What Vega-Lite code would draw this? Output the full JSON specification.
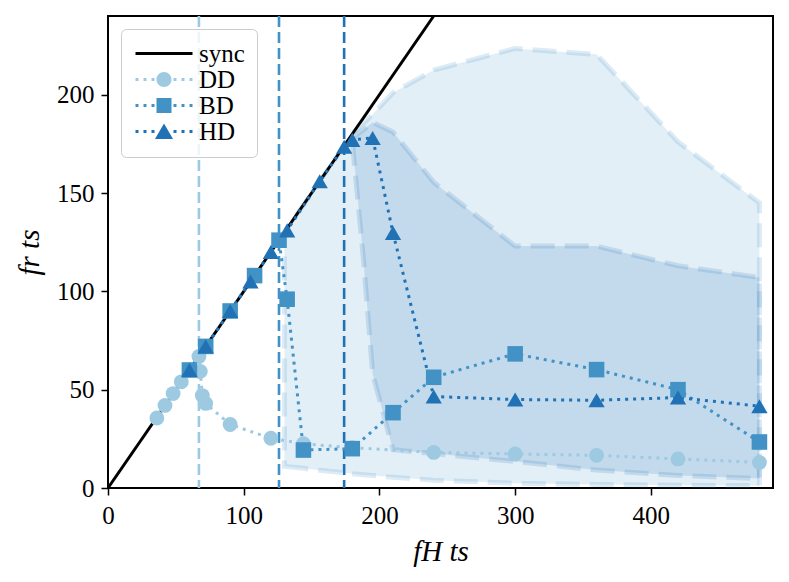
{
  "$schema": "https://vega.github.io/schema/vega-lite/v6.json",
  "width": 665,
  "height": 472,
  "autosize": {"type": "none"},
  "padding": {"left": 108, "top": 16, "right": 16, "bottom": 94},
  "background": "white",
  "config": {
    "font": "Liberation Serif",
    "view": {"stroke": "black", "strokeWidth": 2},
    "axis": {
      "domain": false, "grid": false, "ticks": true, "tickColor": "black", "tickWidth": 1.5, "tickSize": 7,
      "labelFont": "Liberation Serif", "labelFontSize": 25, "labelColor": "black", "labelFlush": false,
      "titleFont": "Liberation Serif", "titleFontSize": 29, "titleFontStyle": "italic", "titleFontWeight": "normal", "titleColor": "black"
    }
  },
  "datasets": {
    "regionA": [
      {"x": 130, "lo": 11, "hi": 130}, {"x": 144, "lo": 10, "hi": 144}, {"x": 156, "lo": 9, "hi": 156},
      {"x": 174, "lo": 7.8, "hi": 174}, {"x": 180, "lo": 7.3, "hi": 180}, {"x": 195, "lo": 6.3, "hi": 190},
      {"x": 210, "lo": 5.5, "hi": 201}, {"x": 240, "lo": 4, "hi": 212.5}, {"x": 300, "lo": 2.4, "hi": 223.5},
      {"x": 360, "lo": 1.8, "hi": 220.5}, {"x": 420, "lo": 1.4, "hi": 176}, {"x": 480, "lo": 1.2, "hi": 145}
    ],
    "regionB": [
      {"x": 180, "lo": 176, "hi": 178}, {"x": 188, "lo": 118, "hi": 182}, {"x": 195, "lo": 58, "hi": 186},
      {"x": 210, "lo": 19.5, "hi": 181}, {"x": 240, "lo": 17.5, "hi": 155.5}, {"x": 300, "lo": 13.5, "hi": 123},
      {"x": 360, "lo": 9.1, "hi": 123}, {"x": 420, "lo": 6.4, "hi": 113}, {"x": 480, "lo": 4.8, "hi": 107}
    ],
    "vlines": [
      {"s": "DD", "x": 67}, {"s": "BD", "x": 126}, {"s": "HD", "x": 174}
    ],
    "sync": [
      {"s": "sync", "x": 0, "y": 0}, {"s": "sync", "x": 240, "y": 240}
    ],
    "series": [
      {"s": "DD", "x": 36, "y": 35.6}, {"s": "DD", "x": 42, "y": 42}, {"s": "DD", "x": 48, "y": 48},
      {"s": "DD", "x": 54, "y": 54}, {"s": "DD", "x": 60, "y": 60}, {"s": "DD", "x": 67, "y": 66.9},
      {"s": "DD", "x": 68, "y": 59.3}, {"s": "DD", "x": 69.5, "y": 47}, {"s": "DD", "x": 72, "y": 43},
      {"s": "DD", "x": 90, "y": 32.3}, {"s": "DD", "x": 120, "y": 25.3}, {"s": "DD", "x": 144, "y": 22.5},
      {"s": "DD", "x": 180, "y": 20.5}, {"s": "DD", "x": 240, "y": 18.1}, {"s": "DD", "x": 300, "y": 17.3},
      {"s": "DD", "x": 360, "y": 16.6}, {"s": "DD", "x": 420, "y": 14.8}, {"s": "DD", "x": 480, "y": 13},
      {"s": "BD", "x": 60, "y": 60}, {"s": "BD", "x": 72, "y": 72}, {"s": "BD", "x": 90, "y": 90},
      {"s": "BD", "x": 108, "y": 108}, {"s": "BD", "x": 126, "y": 126}, {"s": "BD", "x": 132, "y": 96},
      {"s": "BD", "x": 144, "y": 19.3}, {"s": "BD", "x": 180, "y": 20}, {"s": "BD", "x": 210, "y": 38.3},
      {"s": "BD", "x": 240, "y": 56.3}, {"s": "BD", "x": 300, "y": 68.2}, {"s": "BD", "x": 360, "y": 60.2},
      {"s": "BD", "x": 420, "y": 50}, {"s": "BD", "x": 480, "y": 23.4},
      {"s": "HD", "x": 60, "y": 60}, {"s": "HD", "x": 72, "y": 72}, {"s": "HD", "x": 90, "y": 90},
      {"s": "HD", "x": 105, "y": 105}, {"s": "HD", "x": 120, "y": 120}, {"s": "HD", "x": 132, "y": 131},
      {"s": "HD", "x": 156, "y": 156}, {"s": "HD", "x": 174, "y": 173.5}, {"s": "HD", "x": 180, "y": 177},
      {"s": "HD", "x": 195, "y": 178}, {"s": "HD", "x": 210, "y": 129.7}, {"s": "HD", "x": 240, "y": 46.5},
      {"s": "HD", "x": 300, "y": 45}, {"s": "HD", "x": 360, "y": 44.6}, {"s": "HD", "x": 420, "y": 46},
      {"s": "HD", "x": 480, "y": 41.6}
    ]
  },
  "layer": [
    {
      "data": {"name": "regionA"},
      "mark": {"type": "area", "fill": "#4292c6", "fillOpacity": 0.15, "stroke": "#4292c6", "strokeOpacity": 0.18, "strokeWidth": 5, "strokeDash": [24, 10]},
      "encoding": {
        "x": {"field": "x", "type": "quantitative", "scale": {"domain": [0, 490], "nice": false, "zero": false}, "axis": {"values": [0, 100, 200, 300, 400], "labelPadding": 8, "titlePadding": 9}, "title": "fH ts"},
        "y": {"field": "lo", "type": "quantitative", "scale": {"domain": [0, 240], "nice": false, "zero": false}, "axis": {"values": [0, 50, 100, 150, 200], "labelPadding": 7, "titlePadding": 12}, "title": "fr ts"},
        "y2": {"field": "hi"}
      }
    },
    {
      "data": {"name": "regionB"},
      "mark": {"type": "area", "fill": "#2171b5", "fillOpacity": 0.16, "stroke": "#2171b5", "strokeOpacity": 0.17, "strokeWidth": 5, "strokeDash": [24, 10]},
      "encoding": {
        "x": {"field": "x", "type": "quantitative", "title": "fH ts"},
        "y": {"field": "lo", "type": "quantitative", "title": "fr ts"},
        "y2": {"field": "hi"}
      }
    },
    {
      "data": {"name": "vlines"},
      "mark": {"type": "rule", "strokeWidth": 2.6, "strokeDash": [11, 5]},
      "encoding": {
        "x": {"field": "x", "type": "quantitative", "title": "fH ts"},
        "color": {"field": "s", "type": "nominal"}
      }
    },
    {
      "data": {"name": "sync"},
      "mark": {"type": "line", "strokeWidth": 3},
      "encoding": {
        "x": {"field": "x", "type": "quantitative", "title": "fH ts"},
        "y": {"field": "y", "type": "quantitative", "title": "fr ts"},
        "color": {"field": "s", "type": "nominal"}
      }
    },
    {
      "data": {"name": "series"},
      "mark": {"type": "line", "strokeWidth": 3, "strokeDash": [3, 5], "strokeCap": "butt"},
      "encoding": {
        "x": {"field": "x", "type": "quantitative", "title": "fH ts"},
        "y": {"field": "y", "type": "quantitative", "title": "fr ts"},
        "color": {
          "field": "s", "type": "nominal",
          "scale": {"domain": ["sync", "DD", "BD", "HD"], "range": ["#000000", "#9ecae1", "#4292c6", "#2171b5"]},
          "legend": {
            "orient": "none", "legendX": 13, "legendY": 13, "title": null,
            "symbolSize": 400, "symbolType": "circle",
            "labelFont": "Liberation Serif", "labelFontSize": 25, "labelColor": "black", "labelOffset": 41,
            "padding": 12, "rowPadding": 0, "fillColor": "rgba(255,255,255,0.8)", "strokeColor": "#cccccc", "cornerRadius": 5,
            "encode": {
              "symbols": {
                "update": {
                  "shape": {"signal": "datum.value === 'sync' ? 'M-1,-0.15L4.7,-0.15L4.7,0.15L-1,0.15Z' : datum.value === 'DD' ? 'M-1,-0.15L-0.7,-0.15L-0.7,0.15L-1,0.15Z M-0.2,-0.15L0.1,-0.15L0.1,0.15L-0.2,0.15Z M0.6,-0.15L0.9,-0.15L0.9,0.15L0.6,0.15Z M2.8,-0.15L3.1,-0.15L3.1,0.15L2.8,0.15Z M3.6,-0.15L3.9,-0.15L3.9,0.15L3.6,0.15Z M4.4,-0.15L4.7,-0.15L4.7,0.15L4.4,0.15Z M1.1,0A0.75,0.75,0,1,0,2.6,0A0.75,0.75,0,1,0,1.1,0Z' : datum.value === 'BD' ? 'M-1,-0.15L-0.7,-0.15L-0.7,0.15L-1,0.15Z M-0.2,-0.15L0.1,-0.15L0.1,0.15L-0.2,0.15Z M0.6,-0.15L0.9,-0.15L0.9,0.15L0.6,0.15Z M2.8,-0.15L3.1,-0.15L3.1,0.15L2.8,0.15Z M3.6,-0.15L3.9,-0.15L3.9,0.15L3.6,0.15Z M4.4,-0.15L4.7,-0.15L4.7,0.15L4.4,0.15Z M1.1,-0.75L2.6,-0.75L2.6,0.75L1.1,0.75Z' : 'M-1,-0.15L-0.7,-0.15L-0.7,0.15L-1,0.15Z M-0.2,-0.15L0.1,-0.15L0.1,0.15L-0.2,0.15Z M0.6,-0.15L0.9,-0.15L0.9,0.15L0.6,0.15Z M2.8,-0.15L3.1,-0.15L3.1,0.15L2.8,0.15Z M3.6,-0.15L3.9,-0.15L3.9,0.15L3.6,0.15Z M4.4,-0.15L4.7,-0.15L4.7,0.15L4.4,0.15Z M1.85,-0.8L2.75,0.75L0.95,0.75Z'"},
                  "fill": {"signal": "scale('color', datum.value)"},
                  "stroke": {"value": "transparent"},
                  "strokeWidth": {"value": 0},
                  "strokeDash": {"value": []},
                  "opacity": {"value": 1},
                  "fillOpacity": {"value": 1},
                  "size": {"value": 400}
                }
              }
            }
          }
        }
      }
    },
    {
      "data": {"name": "series"},
      "mark": {"type": "point", "filled": true, "opacity": 1, "strokeWidth": 0},
      "encoding": {
        "x": {"field": "x", "type": "quantitative", "title": "fH ts"},
        "y": {"field": "y", "type": "quantitative", "title": "fr ts"},
        "color": {"field": "s", "type": "nominal"},
        "shape": {"field": "s", "type": "nominal", "scale": {"domain": ["DD", "BD", "HD"], "range": ["circle", "square", "triangle-up"]}, "legend": null},
        "size": {"field": "s", "type": "nominal", "scale": {"domain": ["DD", "BD", "HD"], "range": [220, 265, 330]}, "legend": null}
      }
    }
  ]
}
